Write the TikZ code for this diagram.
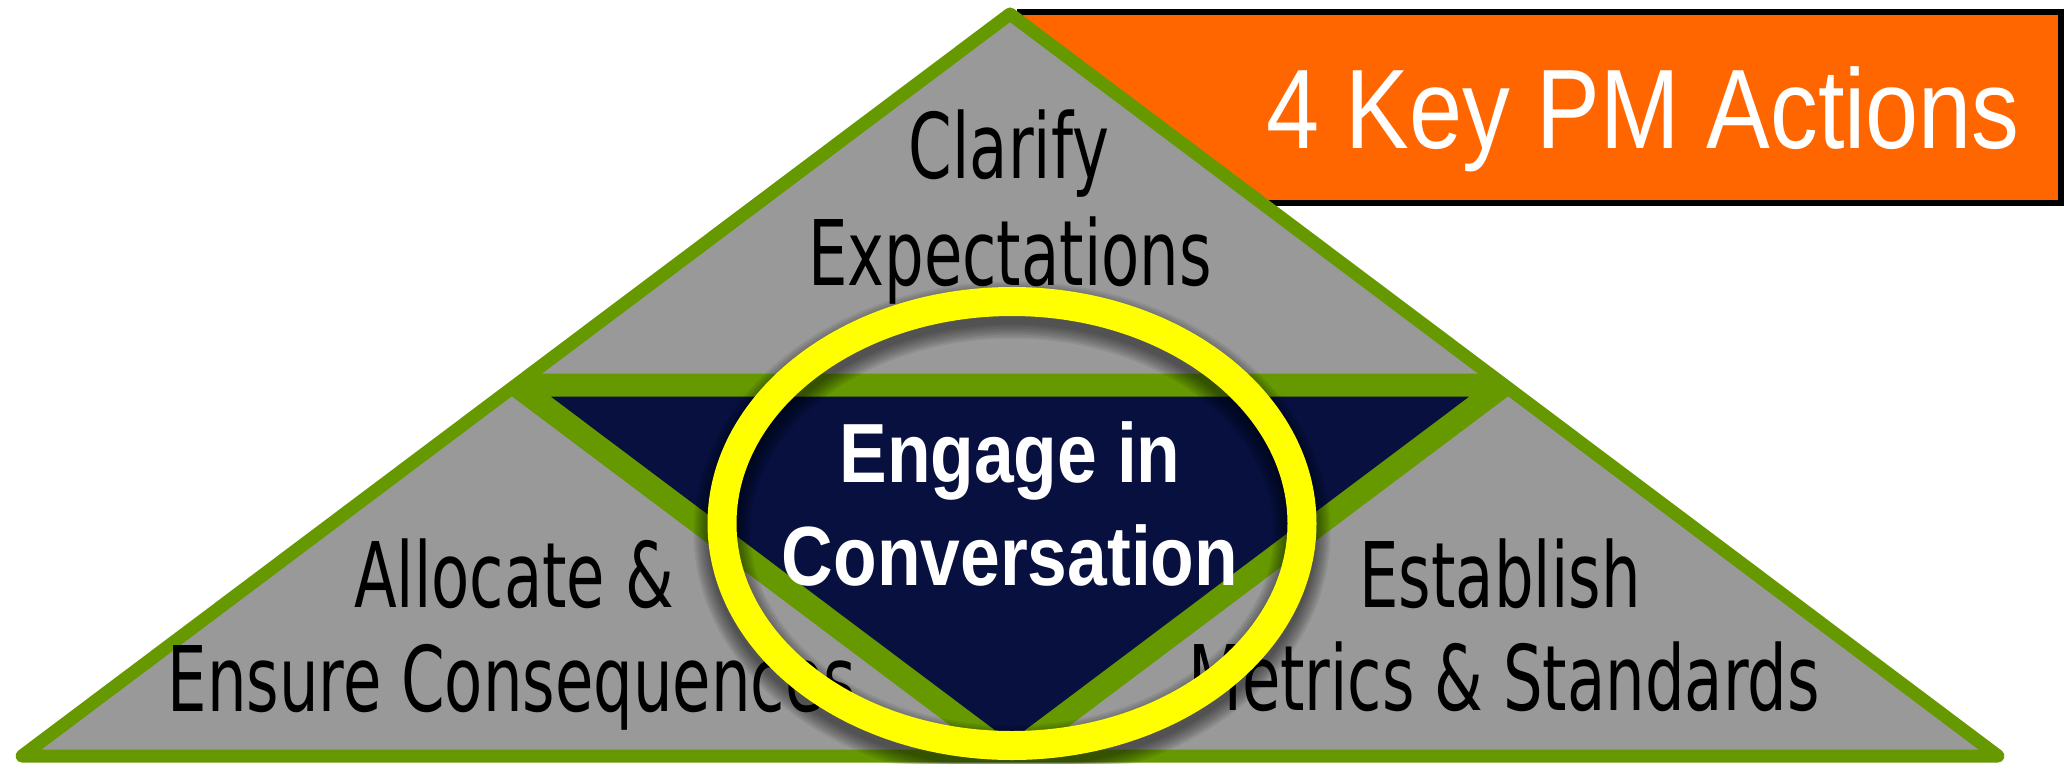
\documentclass[tikz,border=0pt]{standalone}
\usepackage{fontspec}
\setmainfont[FakeStretch=0.69]{DejaVu Sans}
\newfontfamily\centrefont[FakeStretch=0.85]{Liberation Sans}
\newfontfamily\bannerfont[FakeStretch=0.845]{Liberation Sans}
\definecolor{pmgreen}{HTML}{669900}
\definecolor{pmgray}{HTML}{999999}
\definecolor{pmnavy}{HTML}{07103F}
\definecolor{pmorange}{HTML}{FF6600}
\definecolor{pmyellow}{HTML}{FFFF00}
\begin{document}
\begin{tikzpicture}[x=1pt,y=-1pt,
  lbl/.style={anchor=base, inner sep=0pt, text=black,
    font=\fontsize{90.5}{107}\selectfont},
  centrelbl/.style={anchor=base, inner sep=0pt, text=white,
    font=\centrefont\bfseries\fontsize{84}{100}\selectfont},
  bannerlbl/.style={anchor=base, inner sep=0pt, text=white,
    font=\bannerfont\fontsize{113}{130}\selectfont},
  outeredge/.style={draw=pmgreen, line width=13, line join=round},
  inneredge/.style={draw=pmgreen, line width=23, line join=round},
  banner/.style={fill=pmorange, draw=black, line width=6},
  ring/.style={draw=pmyellow, line width=29},
  ringshadow/.style={draw=black, opacity=0.07}]
\useasboundingbox (0,0) rectangle (2064,763);

% corners of the pyramid and midpoints of its sides
\coordinate (A) at (1010,14);
\coordinate (L) at (22,756);
\coordinate (R) at (1998,756);
\coordinate (ML) at (516,385);
\coordinate (MR) at (1504,385);
\coordinate (MB) at (1010,756);

% title banner behind the pyramid
\draw[banner] (1020,12) rectangle (2061,203);
\node[bannerlbl] (title) at (1643,148) {4 Key PM Actions};

% the four triangles
\begin{scope}
  \clip (A) -- (L) -- (R) -- cycle;
  \fill[pmgray] (A) -- (L) -- (R) -- cycle;
  \fill[pmnavy] (ML) -- (MR) -- (MB) -- cycle;
  \draw[inneredge] (ML) -- (MR) -- (MB) -- cycle;
\end{scope}
\draw[outeredge] (A) -- (L) -- (R) -- cycle;

% corner labels
\node[lbl] (clarify1) at (1009,178) {Clarify};
\node[lbl] (clarify2) at (1010,285) {Expectations};
\node[lbl] (allocate1) at (514,607) {Allocate \&};
\node[lbl] (allocate2) at (512,711) {Ensure Consequences};
\node[lbl] (establish1) at (1500,607) {Establish};
\node[lbl] (establish2) at (1504,710) {Metrics \& Standards};

% soft shadow under the highlight ring
\foreach \k in {1,...,8}
  \draw[ringshadow, line width=25+4*\k] (1012,532) ellipse [x radius=290, y radius=222];
\draw[ring] (1012,523.5) ellipse [x radius=290, y radius=222];

% centre label
\node[centrelbl] (engage1) at (1010,482) {Engage in};
\node[centrelbl] (engage2) at (1010,585) {Conversation};
\end{tikzpicture}
\end{document}
